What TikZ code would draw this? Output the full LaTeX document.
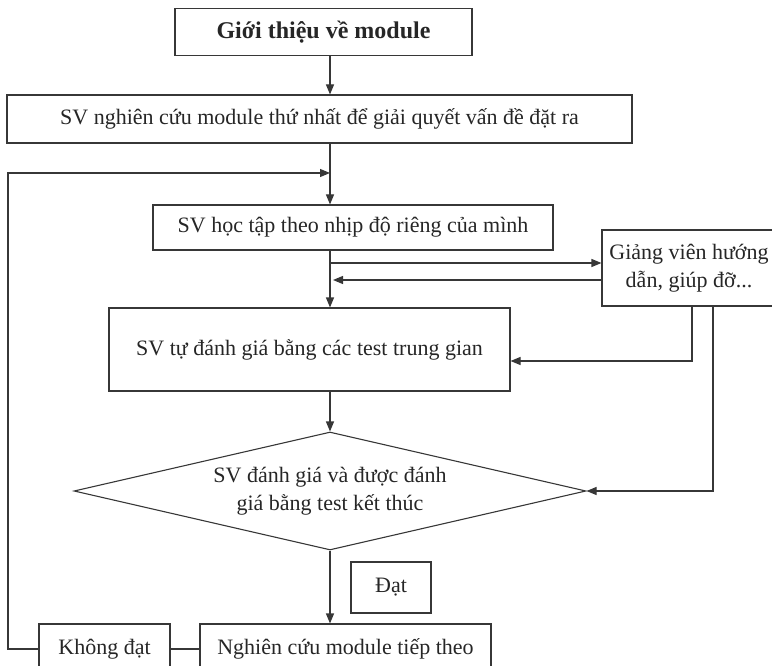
\documentclass[tikz,border=0pt]{standalone}
\usepackage{fontspec}
\setmainfont{Liberation Serif}
\usetikzlibrary{arrows.meta, positioning, shapes.geometric}
\definecolor{ink}{RGB}{55,55,55}
\newcommand{\txt}{\fontsize{22}{28}\selectfont}
\newcommand{\ttl}{\fontsize{24}{28}\selectfont\bfseries}

\begin{document}
\begin{tikzpicture}[
  x=1pt, y=-1pt,
  B/.style={draw=ink,line width=1.1pt,
            align=center,inner sep=0pt,
            font=\txt,text=black!85},
  D/.style={B,diamond,aspect=4.4,
            minimum width=512pt,minimum height=118pt},
  ar/.style={-{Triangle[length=10pt,width=8pt]},ink,line width=1.1pt},
  ln/.style={ink,line width=1.1pt}
]
\useasboundingbox (0,0) rectangle (772,666);
\clip (0,0) rectangle (772,666);

%% spine x: 330

% main column
\node[B,minimum width=297pt,minimum height=47pt,font=\ttl]
      (intro) at (323.5,32) {Giới thiệu về module};
\node[B,minimum width=625pt,minimum height=48pt]
      (first) at (319.5,119) {SV nghiên cứu module thứ nhất để giải quyết vấn đề đặt ra};
\node[B,minimum width=400pt,minimum height=45pt]
      (pace)  at (353,227.5) {SV học tập theo nhịp độ riêng của mình};
\node[B,minimum width=401pt,minimum height=83pt]
      (self)  at (309.5,349.5) {SV tự đánh giá bằng các test trung gian};
\node[D] (final) at (330,491) {SV đánh giá và được đánh\\giá bằng test kết thúc};

% side box
\node[B,minimum width=174pt,minimum height=76pt]
      (gv) at (689,268) {Giảng viên hướng\\dẫn, giúp đỡ...};

% bottom row
\node[B,minimum width=80pt,minimum height=51pt]  (pass) at (391,587.5) {Đạt};
\node[B,minimum width=291pt,minimum height=50pt] (next) at (345.5,649) {Nghiên cứu module tiếp theo};
\node[B,minimum width=131pt,minimum height=50pt] (fail) at (104.5,649) {Không đạt};

% helper points
\coordinate (ax)     at (330,0);
\coordinate (toGV)   at (330,263);
\coordinate (fromGV) at (333,280);
\coordinate (g1)     at (692,361);
\coordinate (g2)     at (713,491);
\coordinate (back)   at (8,173);

% spine
\draw[ar] (intro.south -| ax) -- (first.north -| ax);
\draw[ar] (first.south -| ax) -- (pace.north -| ax);
\draw[ar] (pace.south -| ax)  -- (self.north -| ax);
\draw[ar] (self.south -| ax)  -- (final.north);
\draw[ar] (final.south) -- (next.north -| final.south);

% lecturer loop
\draw[ar] (toGV) -- (toGV -| gv.west);
\draw[ar] (fromGV -| gv.west) -- (fromGV);
\draw[ar] (gv.south -| g1) |- (self.east |- g1);
\draw[ar] (gv.south -| g2) |- (final.east);

% fail -> back to start
\draw[ln] (fail.east) -- (next.west);
\draw[ar] (fail.west) -| (back) -- (back -| ax);

\end{tikzpicture}
\end{document}
